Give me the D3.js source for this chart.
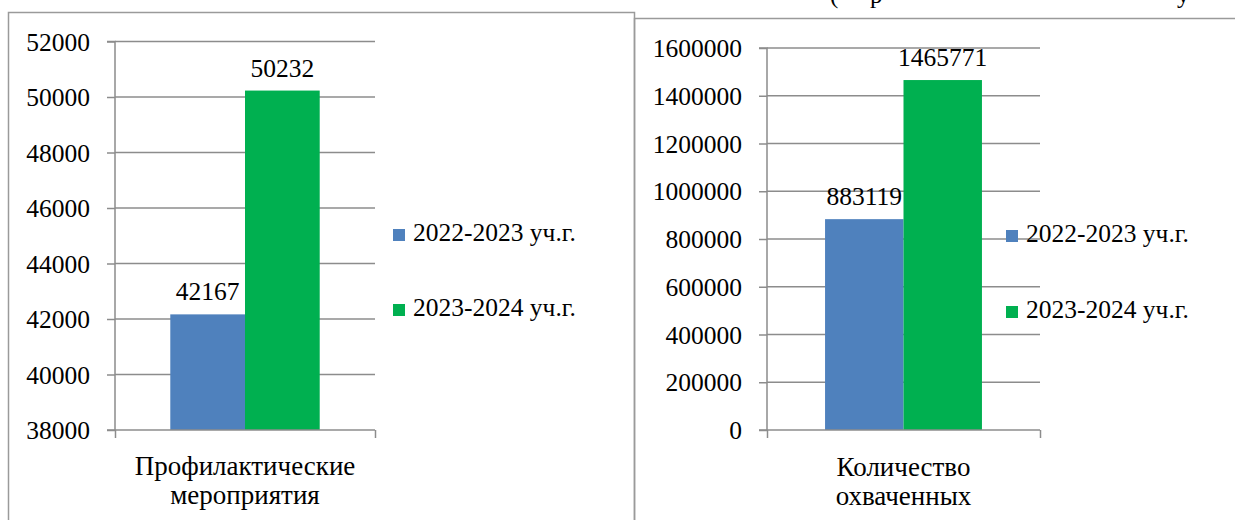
<!DOCTYPE html>
<html>
<head>
<meta charset="utf-8">
<script src="https://d3js.org/d3.v7.min.js"></script>
</head>
<body style="margin:0; background:#fff">
<svg width="1235" height="520"></svg>
<script>
// data
var series = ['2022-2023 уч.г.', '2023-2024 уч.г.'];
var colors = ['#4F81BD', '#00B050'];

var cat1 = ['Профилактические', 'мероприятия'];
var vals1 = [42167, 50232];
var ticks1 = [38000, 40000, 42000, 44000, 46000, 48000, 50000, 52000];

var cat2 = ['Количество', 'охваченных'];
var vals2 = [883119, 1465771];
var ticks2 = [0, 200000, 400000, 600000, 800000, 1000000, 1200000, 1400000, 1600000];

var FONT = 'Liberation Serif';
var svg = d3.select('svg');

// panel frames
svg.append('rect').attr('x', 8.5).attr('y', 12.5).attr('width', 626).attr('height', 600)
  .attr('fill', 'none').attr('stroke', '#9a9a9a').attr('stroke-width', 1.5);
svg.append('rect').attr('x', 634.5).attr('y', 18.5).attr('width', 700).attr('height', 600)
  .attr('fill', 'none').attr('stroke', '#9a9a9a').attr('stroke-width', 1.5);

// cut-off line of text above the right chart
var topLine = svg.append('text').attr('y', 3).attr('font-family', FONT).attr('font-size', 25);
topLine.append('tspan').attr('x', 830).text('(');
topLine.append('tspan').attr('x', 870).text('р');
topLine.append('tspan').attr('x', 1177).text('у');

function panel(cfg) {
  var x = d3.scaleBand().domain(['c']).range([cfg.x0, cfg.x1]).paddingOuter(0.37);
  var xs = d3.scaleBand().domain(series).range([0, x.bandwidth()]);
  var y = d3.scaleLinear().domain([cfg.ticks[0], cfg.ticks[cfg.ticks.length - 1]]).range([cfg.y0, cfg.y1]);

  var g = svg.append('g');

  // gridlines
  g.selectAll('line.grid').data(cfg.ticks.slice(1)).enter().append('line')
    .attr('x1', cfg.x0).attr('x2', cfg.x1)
    .attr('y1', d => y(d)).attr('y2', d => y(d))
    .attr('stroke', '#8c8c8c').attr('stroke-width', 1.5);

  // bars
  g.selectAll('rect.bar').data(cfg.vals).enter().append('rect')
    .attr('x', (d, i) => x('c') + xs(series[i]))
    .attr('width', xs.bandwidth())
    .attr('y', d => y(d))
    .attr('height', d => y(cfg.ticks[0]) - y(d))
    .attr('fill', (d, i) => colors[i]);

  // value labels
  g.selectAll('text.val').data(cfg.vals).enter().append('text')
    .attr('x', (d, i) => x('c') + xs(series[i]) + xs.bandwidth() / 2)
    .attr('y', d => y(d) - 14)
    .attr('text-anchor', 'middle')
    .attr('font-family', FONT).attr('font-size', 25.5)
    .text(d => d);

  // y axis
  var ya = g.append('g').attr('transform', 'translate(' + cfg.x0 + ',0)')
    .call(d3.axisLeft(y).tickValues(cfg.ticks).tickSize(8).tickPadding(17).tickFormat(d3.format('d')));
  ya.attr('font-family', FONT).attr('font-size', 25.5);
  ya.selectAll('line, path').attr('stroke', '#8c8c8c').attr('stroke-width', 1.5);
  ya.select('.domain').attr('d', 'M-8,' + cfg.y1 + 'H0V' + cfg.y0 + 'H-8');
  ya.selectAll('text').attr('dy', '0.34em').attr('fill', '#000');

  // x axis
  var xa = g.append('g').attr('transform', 'translate(0,' + cfg.y0 + ')')
    .call(d3.axisBottom(d3.scaleLinear().domain([0, 1]).range([cfg.x0, cfg.x1]))
      .tickValues([0, 1]).tickSize(8).tickFormat(''));
  xa.selectAll('line, path').attr('stroke', '#8c8c8c').attr('stroke-width', 1.5);
  xa.select('.domain').attr('d', 'M' + cfg.x0 + ',0H' + cfg.x1);

  // category label
  var cx = x('c') + x.bandwidth() / 2;
  g.selectAll('text.cat').data(cfg.cat).enter().append('text')
    .attr('x', cx).attr('y', (d, i) => cfg.catY + i * 29)
    .attr('text-anchor', 'middle')
    .attr('font-family', FONT).attr('font-size', 27)
    .text(d => d);

  // legend
  var lg = g.selectAll('g.leg').data(series).enter().append('g')
    .attr('transform', (d, i) => 'translate(' + cfg.lx + ',' + (cfg.ly + i * cfg.lstep) + ')');
  lg.append('rect').attr('x', 0).attr('y', -12).attr('width', 12).attr('height', 12)
    .attr('fill', (d, i) => colors[i]);
  lg.append('text').attr('x', 20).attr('y', 0)
    .attr('font-family', FONT).attr('font-size', 25.5)
    .text(d => d);
}

panel({ x0: 115, x1: 375, y0: 430, y1: 41.5, ticks: ticks1, vals: vals1, cat: cat1, catY: 475,
        lx: 393, ly: 241, lstep: 75 });
panel({ x0: 767, x1: 1040, y0: 430, y1: 48, ticks: ticks2, vals: vals2, cat: cat2, catY: 476,
        lx: 1006, ly: 242, lstep: 76 });
</script>
</body>
</html>
